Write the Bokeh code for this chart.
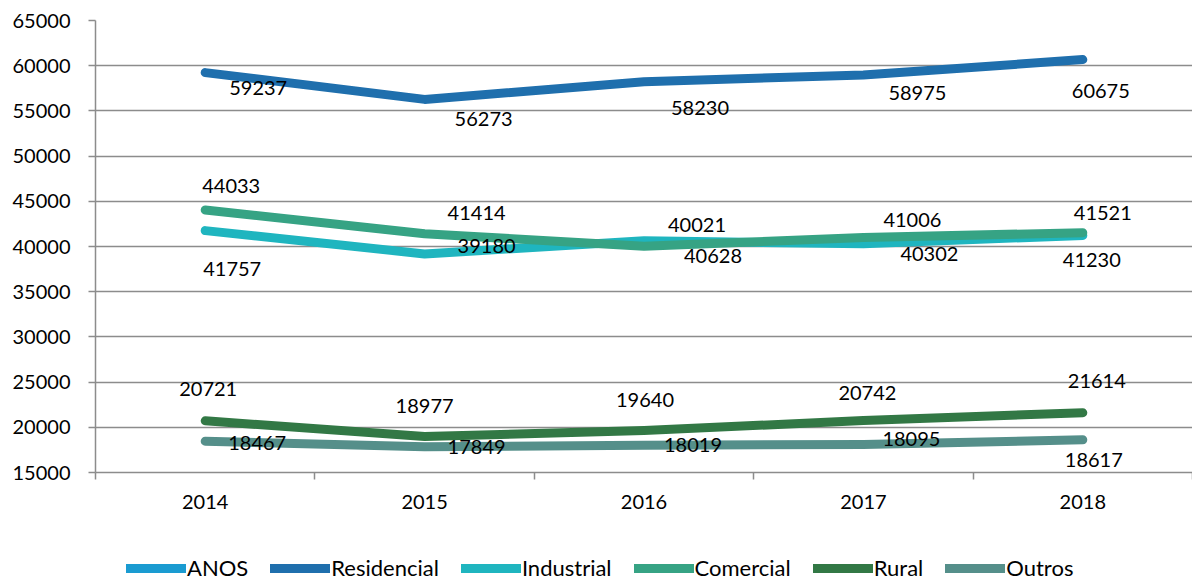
from bokeh.plotting import figure
from bokeh.layouts import column
from bokeh.models import ColumnDataSource, FixedTicker, Legend, LegendItem, Range1d
from bokeh.core.properties import value
from bokeh.embed import file_html
from bokeh.resources import INLINE

# ---- data ----
years = ["2014", "2015", "2016", "2017", "2018"]
anos = [2014, 2015, 2016, 2017, 2018]
residencial = [59237, 56273, 58230, 58975, 60675]
industrial = [41757, 39180, 40628, 40302, 41230]
comercial = [44033, 41414, 40021, 41006, 41521]
rural = [20721, 18977, 19640, 20742, 21614]
outros = [18467, 17849, 18019, 18095, 18617]
y_ticks = [15000, 20000, 25000, 30000, 35000, 40000, 45000, 50000, 55000, 60000, 65000]

# ---- style ----
FONT = "Lato"
FS = "20px"
series = [
    ("ANOS", anos, "#1a9bd1", None),
    ("Residencial", residencial, "#1f6fad", [(53, 15), (59, 20), (56, 26), (54, 18), (18, 31)]),
    ("Industrial", industrial, "#1fb5bf", [(27, 38), (62, -8), (69, 15), (66, 10), (9, 25)]),
    ("Comercial", comercial, "#36a384", [(26, -24), (52, -21), (53, -21), (49, -17), (20, -20)]),
    ("Rural", rural, "#327845", [(3, -32), (0, -31), (1, -31), (4, -28), (14, -32)]),
    ("Outros", outros, "#558f8a", [(52, 2), (52, 0), (49, 0), (48, -6), (11, 20)]),
]

xpos = [i + 0.5 for i in range(len(years))]

p = figure(width=1192, height=530,
           x_range=Range1d(0, len(years)), y_range=Range1d(15000, 65000),
           output_backend="svg", toolbar_location=None,
           min_border_left=95, min_border_right=0, min_border_top=20, min_border_bottom=58)
p.outline_line_color = None
p.background_fill_color = "white"
p.border_fill_color = "white"

GRID = "#8c8c8c"
p.xgrid.grid_line_color = None
p.ygrid.grid_line_color = GRID
p.ygrid.grid_line_width = 1.5
p.yaxis.ticker = FixedTicker(ticks=y_ticks)
p.yaxis.axis_line_color = GRID
p.yaxis.axis_line_width = 1.5
p.yaxis.major_tick_line_color = GRID
p.yaxis.major_tick_line_width = 1.5
p.yaxis.major_tick_out = 7
p.yaxis.major_tick_in = 0
p.yaxis.minor_tick_line_color = None
p.yaxis.major_label_standoff = 18
p.yaxis.major_label_text_font = FONT
p.yaxis.major_label_text_font_size = FS
p.yaxis.major_label_text_color = "black"

p.xaxis.ticker = FixedTicker(ticks=xpos, minor_ticks=list(range(len(years) + 1)))
p.xaxis.major_label_overrides = {x: y for x, y in zip(xpos, years)}
p.xaxis.axis_line_color = GRID
p.xaxis.axis_line_width = 1.5
p.xaxis.major_tick_line_color = None
p.xaxis.major_tick_out = 0
p.xaxis.major_tick_in = 0
p.xaxis.minor_tick_line_color = GRID
p.xaxis.minor_tick_line_width = 1.5
p.xaxis.minor_tick_out = 7
p.xaxis.minor_tick_in = 0
p.xaxis.major_label_standoff = 15
p.xaxis.major_label_text_font = FONT
p.xaxis.major_label_text_font_size = FS
p.xaxis.major_label_text_color = "black"

for name, vals, color, offs in series:
    src = ColumnDataSource(dict(x=xpos, y=vals))
    p.line("x", "y", source=src, line_color=color, line_width=9,
           line_cap="round", line_join="round")

for name, vals, color, offs in series:
    if offs is None:
        continue
    src = ColumnDataSource(dict(x=xpos, y=vals, t=[str(v) for v in vals],
                                dx=[o[0] for o in offs], dy=[o[1] for o in offs]))
    p.text("x", "y", text="t", source=src, x_offset="dx", y_offset="dy",
           text_align="center", text_baseline="middle",
           text_font=value(FONT), text_font_size=FS, text_color="black")

# ---- legend strip below the chart (series lie outside its y range, so only the legend shows) ----
lg = figure(width=1192, height=51, x_range=Range1d(0, len(years)), y_range=Range1d(0, 1),
            output_backend="svg", toolbar_location=None,
            x_axis_type=None, y_axis_type=None,
            min_border_left=0, min_border_right=0, min_border_top=0, min_border_bottom=0)
lg.outline_line_color = None
lg.xgrid.grid_line_color = None
lg.ygrid.grid_line_color = None
items = []
for name, vals, color, offs in series:
    r = lg.line(x=xpos, y=vals, line_color=color, line_width=9, line_cap="round")
    items.append(LegendItem(label=name, renderers=[r]))

legend = Legend(items=items, orientation="horizontal", location=(31, 0),
                border_line_alpha=0, background_fill_alpha=0,
                glyph_width=60, glyph_height=12, label_standoff=1, spacing=22,
                padding=0, margin=0,
                label_text_font=FONT, label_text_font_size="22px", label_text_color="black")
lg.add_layout(legend, "center")

layout = column(p, lg, spacing=0)
open("out.html", "w").write(file_html(layout, INLINE))
